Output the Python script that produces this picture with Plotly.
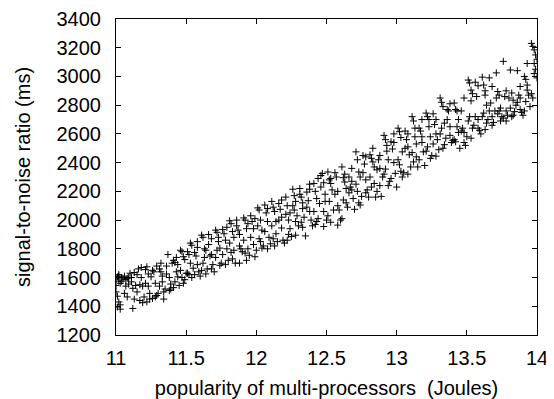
import plotly.graph_objects as go

# popularity of multi-processors (Joules) vs signal-to-noise ratio (ms)
popularity = [
    11.00, 11.01, 11.02, 11.03, 11.00, 11.01, 11.02, 11.01, 11.03, 11.04, 11.00, 11.02,
    11.06, 11.07, 11.08, 11.09, 11.06, 11.08, 11.10,
    11.11, 11.13, 11.12, 11.14, 11.12, 11.15,
    11.16, 11.18, 11.17, 11.19, 11.17, 11.19, 11.20,
    11.21, 11.22, 11.23, 11.24, 11.22, 11.24, 11.25,
    11.26, 11.27, 11.28, 11.29, 11.28, 11.30,
    11.31, 11.32, 11.33, 11.33, 11.34, 11.35, 11.32,
    11.36, 11.37, 11.38, 11.39, 11.40, 11.39,
    11.41, 11.42, 11.43, 11.44, 11.42, 11.45, 11.44,
    11.46, 11.47, 11.48, 11.49, 11.47, 11.49, 11.50,
    11.51, 11.52, 11.53, 11.54, 11.52, 11.55, 11.54,
    11.56, 11.57, 11.58, 11.59, 11.60, 11.58,
    11.61, 11.62, 11.63, 11.64, 11.62, 11.65, 11.64,
    11.66, 11.68, 11.67, 11.69, 11.70, 11.68,
    11.71, 11.72, 11.73, 11.74, 11.72, 11.75, 11.74,
    11.76, 11.77, 11.78, 11.79, 11.80, 11.78,
    11.81, 11.82, 11.83, 11.84, 11.82, 11.85, 11.84,
    11.86, 11.87, 11.88, 11.89, 11.90, 11.88,
    11.91, 11.92, 11.93, 11.94, 11.92, 11.95, 11.94,
    11.96, 11.97, 11.98, 11.99, 12.00, 11.98,
    12.01, 12.02, 12.03, 12.04, 12.02, 12.05, 12.04,
    12.06, 12.07, 12.08, 12.09, 12.10, 12.08,
    12.11, 12.12, 12.13, 12.14, 12.12, 12.15, 12.14,
    12.16, 12.17, 12.18, 12.19, 12.20, 12.18,
    12.21, 12.22, 12.23, 12.24, 12.22, 12.25, 12.24,
    12.26, 12.27, 12.28, 12.29, 12.30, 12.28, 12.27,
    12.31, 12.32, 12.33, 12.34, 12.32, 12.35, 12.33,
    12.36, 12.37, 12.38, 12.39, 12.40, 12.38,
    12.41, 12.42, 12.43, 12.44, 12.42, 12.45, 12.44,
    12.46, 12.47, 12.48, 12.49, 12.50, 12.48, 12.49,
    12.51, 12.52, 12.53, 12.54, 12.52, 12.55, 12.53,
    12.56, 12.57, 12.58, 12.59, 12.60, 12.58,
    12.61, 12.62, 12.63, 12.64, 12.62, 12.65, 12.64,
    12.66, 12.67, 12.68, 12.69, 12.70, 12.68,
    12.71, 12.72, 12.73, 12.74, 12.72, 12.75, 12.74,
    12.76, 12.77, 12.78, 12.79, 12.80, 12.78,
    12.81, 12.82, 12.83, 12.84, 12.82, 12.85, 12.84,
    12.86, 12.87, 12.88, 12.89, 12.90, 12.88,
    12.91, 12.92, 12.93, 12.94, 12.92, 12.95, 12.94,
    12.96, 12.97, 12.98, 12.99, 13.00, 12.98,
    13.01, 13.02, 13.03, 13.04, 13.02, 13.05, 13.04,
    13.06, 13.07, 13.08, 13.09, 13.10, 13.08,
    13.11, 13.12, 13.13, 13.14, 13.12, 13.15, 13.14,
    13.16, 13.17, 13.18, 13.19, 13.20, 13.18,
    13.21, 13.22, 13.23, 13.24, 13.22, 13.25, 13.24,
    13.26, 13.27, 13.28, 13.29, 13.30, 13.28,
    13.31, 13.32, 13.33, 13.34, 13.32, 13.35, 13.34,
    13.36, 13.37, 13.38, 13.39, 13.40, 13.38,
    13.41, 13.42, 13.43, 13.44, 13.42, 13.45, 13.44,
    13.46, 13.47, 13.48, 13.49, 13.50, 13.48,
    13.51, 13.52, 13.53, 13.54, 13.52, 13.55, 13.54, 13.53,
    13.56, 13.57, 13.58, 13.59, 13.60, 13.58,
    13.61, 13.62, 13.63, 13.64, 13.62, 13.65, 13.64, 13.63,
    13.66, 13.67, 13.68, 13.69, 13.70, 13.68,
    13.71, 13.72, 13.73, 13.74, 13.72, 13.75, 13.74,
    13.76, 13.77, 13.78, 13.79, 13.80, 13.78,
    13.81, 13.82, 13.83, 13.84, 13.82, 13.85,
    13.86, 13.87, 13.88, 13.89, 13.90, 13.88,
    13.91, 13.92, 13.93, 13.94, 13.92, 13.95, 13.93,
    13.96, 13.97, 13.98, 13.99, 14.00, 13.98, 13.99, 14.00, 13.97,
]

snr = [
    1590, 1605, 1575, 1560, 1500, 1470, 1430, 1395, 1380, 1600, 1545, 1620,
    1610, 1585, 1595, 1555, 1490, 1465, 1630,
    1600, 1635, 1385, 1545, 1525, 1500,
    1660, 1670, 1550, 1540, 1440, 1425, 1465,
    1655, 1675, 1540, 1490, 1430, 1450, 1605,
    1650, 1640, 1560, 1475, 1465, 1490,
    1660, 1640, 1610, 1570, 1500, 1520, 1700,
    1625, 1760, 1510, 1520, 1700, 1555,
    1720, 1705, 1640, 1605, 1570, 1545, 1690,
    1790, 1780, 1745, 1725, 1600, 1585, 1630,
    1630, 1620, 1840, 1825, 1760, 1665, 1600,
    1775, 1750, 1690, 1640, 1610, 1850,
    1895, 1880, 1800, 1790, 1700, 1660, 1625,
    1900, 1760, 1750, 1690, 1640, 1870,
    1930, 1915, 1880, 1805, 1790, 1700, 1685,
    1935, 1905, 1860, 1800, 1720, 1690,
    1995, 1975, 1920, 1790, 1775, 1700, 1880,
    2000, 1930, 1900, 1800, 1780, 1700,
    2015, 2000, 1940, 1800, 1770, 1755, 1975,
    2030, 1990, 1830, 1745, 1790, 1940,
    2085, 2070, 2000, 1930, 1870, 1820, 1805,
    2105, 2050, 1990, 1880, 1835, 1800,
    2130, 2090, 2060, 1990, 1870, 1850, 1905,
    2115, 2075, 2020, 1860, 1840, 1945,
    2160, 2100, 2000, 1940, 1860, 1885, 2050,
    2215, 2170, 2130, 2030, 1960, 1895, 2070,
    2220, 2160, 2120, 2020, 1985, 1890, 2080,
    2195, 2135, 2060, 2000, 1960, 2215,
    2255, 2200, 2150, 2010, 1970, 2115, 2290,
    2310, 2325, 2260, 2180, 2000, 1955, 2130,
    2335, 2280, 2255, 2210, 2130, 2070, 1985,
    2330, 2300, 2200, 2070, 2000, 1965,
    2370, 2295, 2265, 2220, 2140, 2090, 2120,
    2300, 2230, 2210, 2150, 2075, 2270,
    2475, 2420, 2335, 2300, 2200, 2165, 2105,
    2450, 2390, 2280, 2210, 2160, 2440,
    2455, 2430, 2405, 2255, 2230, 2160, 2370,
    2350, 2420, 2240, 2165, 2300, 2360,
    2590, 2560, 2520, 2420, 2355, 2270, 2240,
    2545, 2495, 2400, 2325, 2230, 2600,
    2640, 2615, 2575, 2475, 2385, 2330, 2300,
    2620, 2560, 2510, 2455, 2370, 2320,
    2720, 2690, 2580, 2440, 2405, 2370, 2530,
    2640, 2620, 2540, 2475, 2380, 2700,
    2745, 2720, 2650, 2580, 2510, 2450, 2430,
    2740, 2665, 2600, 2560, 2490, 2445,
    2850, 2820, 2790, 2675, 2640, 2570, 2525,
    2770, 2760, 2650, 2540, 2555, 2810,
    2815, 2770, 2650, 2610, 2545, 2500, 2700,
    2760, 2640, 2610, 2520, 2580, 2850,
    2975, 2955, 2905, 2880, 2720, 2660, 2640, 2570,
    2960, 2860, 2700, 2625, 2600, 2935,
    2995, 2940, 2870, 2800, 2745, 2700, 2675, 2630,
    2990, 2815, 2720, 2680, 2760, 2930,
    3025, 2895, 2870, 2780, 2740, 2720, 2690,
    3105, 2860, 2760, 2730, 2850, 2690,
    3045, 2885, 2835, 2755, 2720, 2800,
    3040, 2870, 2850, 2750, 2730, 2930,
    3000, 2980, 2905, 2870, 2825, 2790, 3090,
    3230, 3210, 3185, 3150, 3120, 3090, 3050, 2990, 2850,
]

popularity_more = [
    11.02, 11.04, 11.05, 11.03, 11.07, 11.09, 11.11, 11.13, 11.15, 11.18,
    11.21, 11.23, 11.26, 11.29, 11.31, 11.34, 11.36, 11.38, 11.41, 11.43,
    11.46, 11.48, 11.51, 11.53, 11.56, 11.58, 11.61, 11.63, 11.66, 11.68,
    11.71, 11.73, 11.76, 11.79, 11.81, 11.83, 11.86, 11.88, 11.91, 11.93,
    11.96, 11.99, 12.01, 12.03, 12.06, 12.08, 12.11, 12.13, 12.16, 12.18,
    12.21, 12.23, 12.26, 12.28, 12.31, 12.33, 12.36, 12.38, 12.41, 12.43,
    12.46, 12.48, 12.51, 12.53, 12.56, 12.58, 12.61, 12.63, 12.66, 12.68,
    12.71, 12.73, 12.76, 12.78, 12.81, 12.83, 12.86, 12.88, 12.91, 12.93,
    12.96, 12.98, 13.01, 13.03, 13.06, 13.08, 13.11, 13.13, 13.16, 13.18,
    13.21, 13.23, 13.26, 13.28, 13.31, 13.33, 13.36, 13.38, 13.41, 13.43,
    13.46, 13.48, 13.51, 13.53, 13.56, 13.58, 13.61, 13.63, 13.66, 13.68,
    13.71, 13.73, 13.76, 13.78, 13.81, 13.83, 13.86, 13.88, 13.91, 13.93,
    13.96, 13.98,
]
snr_more = [
    1610, 1575, 1590, 1410, 1540, 1600, 1570, 1450, 1620, 1600,
    1560, 1625, 1455, 1680, 1540, 1450, 1680, 1600, 1530, 1740,
    1650, 1560, 1780, 1700, 1620, 1810, 1650, 1740, 1830, 1660,
    1740, 1850, 1760, 1950, 1840, 1730, 1960, 1820, 1860, 1720,
    1880, 2010, 1960, 1850, 1920, 2080, 1960, 1820, 2000, 2140,
    2040, 1900, 2100, 1990, 2180, 1950, 2090, 2250, 2060, 1990,
    2230, 2060, 2030, 2290, 2180, 2100, 2010, 2320, 2190, 2360,
    2250, 2120, 2330, 2190, 2300, 2500, 2200, 2450, 2320, 2480,
    2290, 2540, 2420, 2340, 2500, 2600, 2470, 2640, 2420, 2580,
    2480, 2700, 2530, 2700, 2600, 2500, 2700, 2590, 2560, 2760,
    2620, 2540, 2690, 2830, 2720, 2640, 2720, 2900, 2760, 2660,
    2850, 2760, 2710, 2900, 2780, 2730, 2820, 2770, 2760, 2940,
    2880, 3020,
]

assert len(popularity) == len(snr)
assert len(popularity_more) == len(snr_more)

x_ticks = [11, 11.5, 12, 12.5, 13, 13.5, 14]
x_tick_labels = ["11", "11.5", "12", "12.5", "13", "13.5", "14"]
y_ticks = [1200, 1400, 1600, 1800, 2000, 2200, 2400, 2600, 2800, 3000, 3200, 3400]

FONT = "Liberation Sans, Arial, Helvetica, sans-serif"
FS = 20

fig = go.Figure(
    go.Scatter(
        x=popularity + popularity_more,
        y=snr + snr_more,
        mode="markers",
        marker=dict(symbol="cross-thin", size=5, color="black",
                    line=dict(color="black", width=1)),
        showlegend=False,
        hoverinfo="x+y",
    )
)

axis_common = dict(
    showline=True, mirror="ticks", linecolor="black", linewidth=1,
    ticks="inside", ticklen=5, tickcolor="black", tickwidth=1,
    showgrid=False, zeroline=False,
    tickfont=dict(family=FONT, size=FS, color="black"),
)

fig.update_xaxes(
    range=[11, 14], tickvals=x_ticks, ticktext=x_tick_labels,
    title=dict(text="popularity of multi-processors \u00a0(Joules)",
               font=dict(family=FONT, size=FS, color="black"), standoff=13),
    ticklabelstandoff=5,
    **axis_common,
)
fig.update_yaxes(
    range=[1200, 3400], tickvals=y_ticks,
    title=dict(text="signal-to-noise ratio (ms)",
               font=dict(family=FONT, size=FS, color="black"), standoff=20),
    ticklabelstandoff=10,
    **axis_common,
)

# the page body adds an 8 px offset; size the figure so the plot frame
# lands where the reference frame is
fig.update_layout(
    width=546, height=391,
    margin=dict(l=108, r=17, t=11, b=64, autoexpand=False),
    paper_bgcolor="white", plot_bgcolor="white",
    font=dict(family=FONT, size=FS, color="black"),
)

fig.write_html("out.html")
